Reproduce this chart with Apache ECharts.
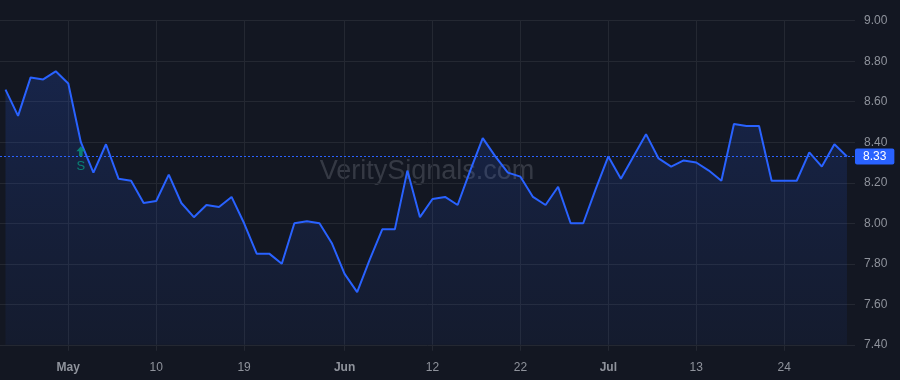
<!DOCTYPE html>
<html>
<head>
<meta charset="utf-8">
<script src="https://cdn.jsdelivr.net/npm/echarts@6/dist/echarts.min.js"></script>
<style>
html, body { margin: 0; padding: 0; background: #131722; }
#chart { width: 900px; height: 380px; }
</style>
</head>
<body>
<div id="chart"></div>
<script>
// daily closes, one per trading session
var prices = [8.66, 8.53, 8.72, 8.71, 8.75, 8.69, 8.40, 8.25, 8.39, 8.22,
              8.21, 8.10, 8.11, 8.24, 8.10, 8.03, 8.09, 8.08, 8.13, 8.00,
              7.85, 7.85, 7.80, 8.00, 8.01, 8.00, 7.90, 7.75, 7.66, 7.82,
              7.97, 7.97, 8.26, 8.03, 8.12, 8.13, 8.09, 8.26, 8.42, 8.33,
              8.25, 8.23, 8.13, 8.09, 8.18, 8.00, 8.00, 8.17, 8.33, 8.22,
              8.33, 8.44, 8.32, 8.28, 8.31, 8.30, 8.26, 8.21, 8.49, 8.48,
              8.48, 8.21, 8.21, 8.21, 8.35, 8.28, 8.39, 8.33];

// x tick positions (session index) and their labels
var tickPos = [5, 12, 19, 27, 34, 41, 48, 55, 62];
var tickLabels = ['May', '10', '19', 'Jun', '12', '22', 'Jul', '13', '24'];
var monthLabels = ['May', 'Jun', 'Jul'];

// signal marker
var signalIdx = [6];
var signalText = ['S'];

var lastPrice = prices[prices.length - 1];
var gridColor = '#242832';
var textColor = '#8f939c';
var blue = '#2962ff';
var green = '#089981';

var chart = echarts.init(document.getElementById('chart'));

var option = {
    backgroundColor: '#131722',
    animation: false,
    textStyle: { fontFamily: '"Liberation Sans", Arial, sans-serif' },
    grid: { left: 0, right: 45, top: 20.7, bottom: 35.2 },
    graphic: [{
        type: 'text',
        x: 427,
        y: 172,
        z: 0,
        silent: true,
        style: {
            text: 'VeritySignals.com',
            fill: 'rgba(178,181,190,0.22)',
            font: '27px "Liberation Sans", Arial, sans-serif',
            textAlign: 'center',
            textVerticalAlign: 'middle'
        }
    }],
    xAxis: {
        type: 'value',
        min: -0.438,
        max: 67.64,
        axisLine: { show: false },
        axisTick: {
            show: true,
            length: 6,
            customValues: tickPos,
            lineStyle: { color: gridColor }
        },
        splitLine: { show: true, lineStyle: { color: gridColor } },
        axisLabel: {
            customValues: tickPos,
            margin: 17,
            fontSize: 12,
            color: textColor,
            formatter: function (v) {
                var t = tickLabels[tickPos.indexOf(Math.round(v))] || '';
                return monthLabels.indexOf(t) >= 0 ? '{b|' + t + '}' : t;
            },
            rich: {
                b: { fontWeight: 'bold', fontSize: 12, color: textColor }
            }
        }
    },
    yAxis: {
        type: 'value',
        position: 'right',
        min: 7.4,
        max: 9.0,
        interval: 0.2,
        axisLine: { show: false },
        axisTick: { show: false },
        splitLine: { lineStyle: { color: gridColor } },
        axisLabel: {
            margin: 9,
            fontSize: 12,
            color: textColor,
            formatter: function (v) { return v.toFixed(2); }
        }
    },
    series: [{
        type: 'line',
        data: prices.map(function (v, i) { return [i, v]; }),
        showSymbol: false,
        symbol: 'none',
        z: 3,
        lineStyle: { color: blue, width: 2 },
        areaStyle: {
            origin: 'start',
            color: new echarts.graphic.LinearGradient(0, 0, 0, 1, [
                { offset: 0, color: 'rgba(41,98,255,0.25)' },
                { offset: 1, color: 'rgba(41,98,255,0.08)' }
            ])
        },
        markLine: {
            silent: true,
            symbol: ['none', 'none'],
            lineStyle: { color: blue, width: 1, type: [2, 2] },
            label: {
                position: 'end',
                distance: 0,
                formatter: function () { return lastPrice.toFixed(2); },
                backgroundColor: blue,
                color: '#fff',
                fontSize: 12,
                padding: [2, 8, 2, 8],
                borderRadius: 2
            },
            data: [{ yAxis: lastPrice }]
        }
    }, {
        type: 'scatter',
        z: 4,
        data: signalIdx.map(function (i) { return [i, prices[i]]; }),
        symbol: 'path://M5,0 L10,5 L7,5 L7,10 L3,10 L3,5 L0,5 Z',
        symbolSize: [9, 10],
        symbolOffset: [0, 9],
        itemStyle: { color: green },
        label: {
            show: true,
            position: 'bottom',
            distance: 4,
            color: green,
            fontSize: 13,
            formatter: function (p) { return signalText[p.dataIndex]; }
        }
    }]
};

chart.setOption(option);
</script>
</body>
</html>
